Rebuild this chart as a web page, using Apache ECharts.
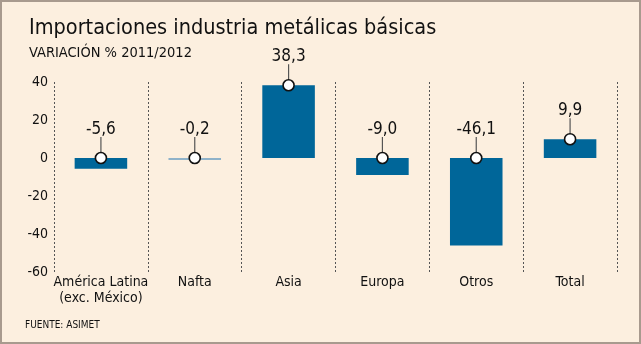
<!DOCTYPE html>
<html><head><meta charset="utf-8">
<script src="https://cdn.jsdelivr.net/npm/echarts@6/dist/echarts.min.js"></script>
<style>
html,body{margin:0;padding:0;background:#fcefdf;}
#c{width:641px;height:344px;box-sizing:border-box;border:2px solid #a89a8e;}
</style></head><body>
<div id="c"></div>
<script>
const categories = ['América Latina\n(exc. México)', 'Nafta', 'Asia', 'Europa', 'Otros', 'Total'];
const values = [-5.6, -0.2, 38.3, -9.0, -46.1, 9.9];
const labels = ['-5,6', '-0,2', '38,3', '-9,0', '-46,1', '9,9'];
const yTicks = [-60, -40, -20, 0, 20, 40];

const FONT = '"DejaVu Sans Condensed", "DejaVu Sans", sans-serif';
const chart = echarts.init(document.getElementById('c'), null, {renderer: 'canvas'});
chart.setOption({
  backgroundColor: '#fcefdf',
  animation: false,
  title: [
    {text: 'Importaciones industria metálicas básicas', left: 27, top: 15, padding: 0,
     textStyle: {fontFamily: FONT, fontSize: 21.5, fontWeight: 'normal', color: '#111'}},
    {text: 'VARIACIÓN % 2011/2012', left: 27, top: 44, padding: 0,
     textStyle: {fontFamily: FONT, fontSize: 14.5, fontWeight: 'normal', color: '#111'}},
    {text: 'FUENTE: ASIMET', left: 23, top: 318, padding: 0,
     textStyle: {fontFamily: FONT, fontSize: 10, fontWeight: 'normal', color: '#111'}}
  ],
  grid: {left: 52, right: 22, top: 80, bottom: 70, containLabel: false},
  xAxis: {
    type: 'category', data: categories, boundaryGap: true,
    axisLine: {show: false}, axisTick: {show: false},
    splitLine: {show: true, lineStyle: {color: '#555', type: [2, 2], width: 1}},
    axisLabel: {fontFamily: FONT, fontSize: 14, color: '#111', margin: 2, lineHeight: 16, interval: 0},
    position: 'bottom'
  },
  yAxis: {
    type: 'value', min: yTicks[0], max: yTicks[yTicks.length - 1], interval: 20,
    axisLine: {show: false}, axisTick: {show: false}, splitLine: {show: false},
    axisLabel: {fontFamily: FONT, fontSize: 14, color: '#111', margin: 6}
  },
  series: [
    {
      type: 'bar', data: values, barWidth: '56%', barMinHeight: 2,
      itemStyle: {color: p => Math.abs(p.value) < 1 ? '#8fb2c9' : '#006699'}
    },
    {
      type: 'custom', data: values.map((v, i) => [i, v]), z: 10,
      renderItem: function (params, api) {
        const i = api.value(0), v = api.value(1);
        const p = api.coord([i, Math.max(v, 0)]);
        const r = 5.5;
        return {
          type: 'group',
          children: [
            {type: 'line', shape: {x1: p[0], y1: p[1] - r, x2: p[0], y2: p[1] - 21},
             style: {stroke: '#555', lineWidth: 1.2}},
            {type: 'circle', shape: {cx: p[0], cy: p[1], r: r},
             style: {fill: '#fff', stroke: '#111', lineWidth: 1.6}},
            {type: 'text', x: p[0], y: p[1] - 20,
             style: {text: labels[params.dataIndex], fontFamily: FONT, fontSize: 17,
                     fill: '#111', align: 'center', verticalAlign: 'bottom'}}
          ]
        };
      }
    }
  ]
});
</script>
</body></html>
